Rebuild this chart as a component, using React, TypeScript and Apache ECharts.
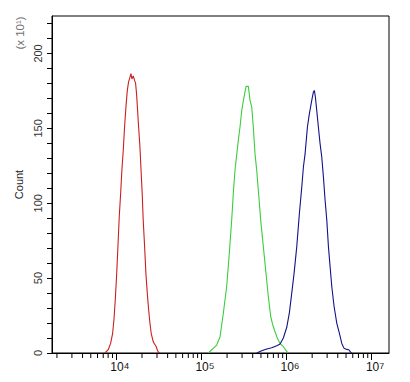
import React, { useEffect, useRef } from 'react';
import * as echarts from 'echarts';

// Fluorescence intensity (log scale) vs count (x10)
const redSeries: [number, number][] = [
  [7330, 0], [8020, 2.2], [8550, 6.4], [9020, 13], [9350, 22], [9690, 35], [10040, 51],
  [10420, 71], [10800, 91], [11200, 106], [11600, 122], [12030, 135], [12480, 151],
  [12940, 164], [13410, 175], [13900, 181], [14420, 184], [14820, 186.5], [15220, 183],
  [15780, 185], [16360, 182], [16810, 180], [17260, 173], [17740, 162], [18230, 151],
  [18890, 138], [19410, 124], [20120, 106], [20650, 89], [21460, 71], [22230, 53],
  [23070, 40], [23910, 29], [24780, 20], [25680, 13], [27080, 7.6], [28080, 6],
  [29140, 4.7], [30200, 2.2], [31310, 0.4], [32480, 0],
];

const greenSeries: [number, number][] = [
  [120200, 0], [151000, 5.3], [165300, 10.9], [180500, 26.4], [197600, 44.2], [212300, 66.4],
  [226500, 88.7], [236600, 106.4], [247700, 122], [271000, 142], [283800, 150.9],
  [297200, 161.8], [316200, 170.9], [334000, 178], [355600, 178], [372300, 168.7],
  [389800, 164.2], [406700, 150.9], [425800, 133.1], [445800, 122], [465800, 108.7],
  [496700, 88.7], [533400, 71], [573600, 53.1], [610900, 37.6], [651600, 24.2],
  [688500, 18.7], [732800, 14.2], [779900, 9.8], [838900, 6.4], [916700, 4.2],
  [1004000, 1.1], [1032000, 0],
];

const blueSeries: [number, number][] = [
  [445800, 0], [510500, 1.5], [573600, 2.5], [669300, 3.5], [779900, 5], [838900, 6],
  [916700, 10], [1004000, 17], [1080000, 27], [1151000, 40], [1225000, 53], [1318000, 71],
  [1415000, 93.1], [1510000, 110.9], [1578000, 124.2], [1652000, 133.1], [1759000, 150.9],
  [1855000, 159.8], [1978000, 168.7], [2066000, 174.2], [2122000, 175.3], [2181000, 170.9],
  [2265000, 161.8], [2366000, 150.9], [2477000, 139.8], [2593000, 130.9], [2711000, 117.6],
  [2838000, 102], [2971000, 88.7], [3106000, 71], [3251000, 57.5], [3403000, 44.2],
  [3624000, 30.9], [3896000, 19.8], [4181000, 13.1], [4459000, 6.4], [4744000, 3.1],
  [5101000, 2.4], [5390000, 2.2], [5692000, 0.4], [5845000, 0],
];

const xMinorTicks: number[] = [
  2000, 3000, 4000, 5000, 6000, 7000, 8000, 9000,
  20000, 30000, 40000, 50000, 60000, 70000, 80000, 90000,
  200000, 300000, 400000, 500000, 600000, 700000, 800000, 900000,
  2000000, 3000000, 4000000, 5000000, 6000000, 7000000, 8000000, 9000000,
];

const yLabelValues: number[] = [0, 50, 100, 150, 200];
const SUP: Record<string, string> = { '1': '¹', '2': '²', '3': '³', '4': '⁴', '5': '⁵', '6': '⁶', '7': '⁷', '8': '⁸', '9': '⁹', '0': '⁰' };

const X_MIN = 1750;
const X_MAX = 16000000;
const Y_MAX = 225;

const FONT = 'Arial, "Liberation Sans", sans-serif';

export default function App() {
  const ref = useRef<HTMLDivElement>(null);
  useEffect(() => {
    if (!ref.current) return;
    const chart = echarts.init(ref.current, undefined, { renderer: 'svg' });
    const line = (data: [number, number][], color: string) => ({
      type: 'line',
      data,
      showSymbol: false,
      symbol: 'none',
      lineStyle: { color, width: 1.1 },
      z: 3,
    });
    chart.setOption({
      animation: false,
      backgroundColor: '#fff',
      grid: {
        left: 52, top: 16, right: 21, bottom: 29,
        show: true, borderColor: '#000', borderWidth: 1, backgroundColor: 'transparent',
      },
      xAxis: {
        type: 'log',
        logBase: 10,
        min: X_MIN,
        max: X_MAX,
        axisLine: { show: true, lineStyle: { color: '#000', width: 1 } },
        axisTick: { show: true, length: 7, lineStyle: { color: '#000' } },
        splitLine: { show: false },
        axisLabel: {
          showMinLabel: false,
          showMaxLabel: false,
          margin: 7,
          padding: [0, 0, 0, 7],
          fontFamily: FONT,
          formatter: (v: number) => {
            const e = Math.log10(v);
            const r = Math.round(e);
            if (Math.abs(e - r) > 1e-6) return '';
            return `{b|10}{s|${String(r).split('').map((c) => SUP[c]).join('')}}`;
          },
          rich: {
            b: { fontSize: 12, color: '#111', fontFamily: FONT },
            s: { fontSize: 14, color: '#111', fontFamily: FONT },
          },
        },
      },
      yAxis: {
        type: 'value',
        min: 0,
        max: Y_MAX,
        interval: 10,
        name: 'Count',
        nameLocation: 'middle',
        nameGap: 28,
        nameTextStyle: { fontSize: 11, color: '#222', fontFamily: FONT },
        axisLine: { show: true, lineStyle: { color: '#000', width: 1 } },
        axisTick: { show: true, length: 5, lineStyle: { color: '#000' } },
        splitLine: { show: false },
        axisLabel: {
          rotate: 90,
          margin: 9,
          fontSize: 11,
          color: '#333',
          fontFamily: FONT,
          showMaxLabel: false,
          formatter: (v: number) => (yLabelValues.includes(v) ? String(v) : ''),
        },
      },
      graphic: [
        {
          type: 'text',
          x: 20,
          y: 33,
          rotation: Math.PI / 2,
          style: {
            text: '(x 10¹)',
            align: 'center',
            verticalAlign: 'middle',
            fontSize: 11.5,
            fill: '#707070',
            fontFamily: FONT,
          },
        },
      ],
      series: [
        line(redSeries, '#c8201e'),
        line(greenSeries, '#3dcc3d'),
        line(blueSeries, '#12128a'),
        {
          type: 'custom',
          data: xMinorTicks.map((v) => [v, 0]),
          silent: true,
          clip: false,
          z: 4,
          renderItem: (params: any, api: any) => {
            const p = api.coord([api.value(0), 0]);
            return {
              type: 'line',
              shape: { x1: p[0], y1: p[1], x2: p[0], y2: p[1] + 5 },
              style: { stroke: '#000', lineWidth: 1 },
            };
          },
        },
      ],
    });
    return () => chart.dispose();
  }, []);
  return (
    <div
      ref={ref}
      style={{ position: 'fixed', left: 0, top: 0, width: 410, height: 382, background: '#fff' }}
    />
  );
}
